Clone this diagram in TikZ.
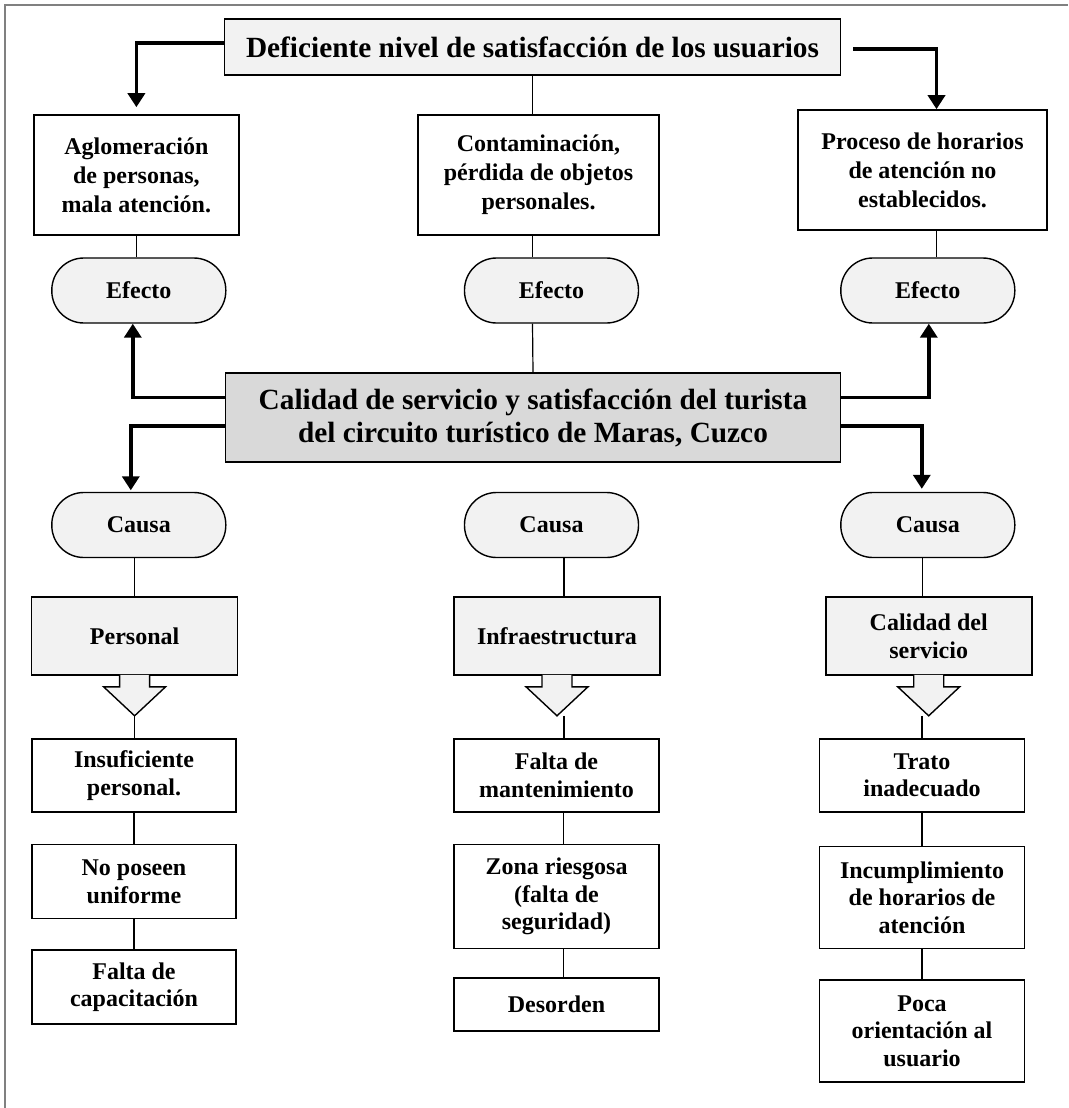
\documentclass[tikz,border=0pt]{standalone}
\usepackage{fontspec}
\setmainfont{Liberation Serif}
\usetikzlibrary{arrows.meta, calc, positioning}
\definecolor{softgray}{HTML}{F2F2F2}
\definecolor{midgray}{HTML}{D9D9D9}
\tikzset{
  headbox/.style={rectangle, draw=black, line width=1.6pt, align=center, inner sep=0pt, font=\fontsize{29.3}{33}\selectfont\bfseries},
  effectbox/.style={rectangle, draw=black, line width=1.6pt, fill=white, align=center, inner sep=0pt, minimum height=120pt, font=\fontsize{24}{29}\selectfont\bfseries},
  pill/.style={rectangle, rounded corners=32pt, draw=black, line width=1.4pt, fill=softgray, minimum width=174pt, minimum height=65pt, inner sep=0pt, font=\fontsize{24}{29}\selectfont\bfseries},
  causebox/.style={rectangle, draw=black, line width=1.6pt, fill=softgray, minimum width=206pt, minimum height=78pt, align=center, inner sep=0pt, font=\fontsize{24}{28}\selectfont\bfseries},
  itembox/.style={rectangle, draw=black, line width=1.6pt, fill=white, minimum width=205pt, align=center, inner sep=0pt, font=\fontsize{24}{27.5}\selectfont\bfseries},
  link/.style={line width=1.2pt},
  bigarrow/.style={line width=3.6pt, -{Triangle[width=17pt,length=14pt]}},
}
% hollow block arrow under a cause box
\newcommand{\downblock}[1]{%
  \fill[softgray] ($(#1.south)+(-15,-1)$) -- ++(0,12) -- ++(-16,0) -- ($(#1.south)+(0,40)$) -- ($(#1.south)+(31,11)$) -- ++(-16,0) -- ++(0,-12) -- cycle;
  \draw[line width=1.4pt] ($(#1.south)+(-15,-0.8)$) -- ++(0,11.8) -- ++(-16,0) -- ($(#1.south)+(0,40)$) coordinate (#1-tip) -- ($(#1.south)+(31,11)$) -- ++(-16,0) -- ++(0,-11.8);
}

\begin{document}
\begin{tikzpicture}[x=1pt, y=-1pt]
\useasboundingbox (0,0) rectangle (1068,1108);
\draw[line width=1.5pt, gray] (5,1108) -- (5,5) -- (1068,5);

% Main nodes
\node (top) [headbox, fill=softgray, minimum width=616pt, minimum height=56pt] at (532.5,47) {Deficiente nivel de satisfacción de los usuarios};
\node (centre) [headbox, fill=midgray, minimum width=615pt, minimum height=89pt] at (533,417.5) {Calidad de servicio y satisfacción del turista\\del circuito turístico de Maras, Cuzco};

% Effects
\node (agl) [effectbox, minimum width=205pt] at (136.4,175) {Aglomeración\\de personas,\\mala atención.};
\node (cont) [effectbox, minimum width=241pt] at (538.5,175) {Contaminación,\\pérdida de objetos\\personales.};
\node (proc) [effectbox, minimum width=249pt] at (922.5,170) {Proceso de horarios\\de atención no\\establecidos.};
\node (eff1) [pill] at (138.8,290.5) {Efecto};
\node (eff2) [pill] at (551.5,290.5) {Efecto};
\node (eff3) [pill] at (927.8,290.5) {Efecto};

% Causes
\node (cau1) [pill] at (138.8,525) {Causa};
\node (cau2) [pill] at (551.5,525) {Causa};
\node (cau3) [pill] at (927.8,525) {Causa};
\node (pers) [causebox] at (134.6,636) {Personal};
\node (infra) [causebox] at (557,636) {Infraestructura};
\node (calid) [causebox] at (928.7,636) {Calidad del\\servicio};
\downblock{pers}
\downblock{infra}
\downblock{calid}

% Cause details
\node (ins) [itembox, minimum width=204pt, minimum height=73pt] at (134,775.5) {Insuficiente\\personal.};
\node (nop) [itembox, minimum width=204pt, minimum height=74pt, below=31pt of ins] {No poseen\\uniforme};
\node (fcap) [itembox, minimum width=204pt, minimum height=74pt, below=30pt of nop] {Falta de\\capacitación};
\node (fman) [itembox, minimum height=73pt] at (556.5,775.5) {Falta de\\mantenimiento};
\node (zona) [itembox, minimum height=104pt, below=31pt of fman] {Zona riesgosa\\(falta de\\seguridad)};
\node (deso) [itembox, minimum height=53pt, below=28pt of zona] {Desorden};
\node (trato) [itembox, minimum height=73pt] at (922,775.5) {Trato\\inadecuado};
\node (incu) [itembox, minimum height=102pt, below=33pt of trato] {Incumplimiento\\de horarios de\\atención};
\node (poca) [itembox, minimum height=102pt, below=30pt of incu] {Poca\\orientación al\\usuario};

% Thin links
\draw [link] (top.south) -- (top.south |- cont.north);
\draw [link] (top.south |- cont.south) -- (top.south |- eff2.north);
\draw [link] (top.south |- eff2.south) -- (centre.north);
\draw [link] (agl.south) -- (agl.south |- eff1.north);
\draw [link] ([xshift=14pt]proc.south) -- ([xshift=14pt]proc.south |- eff3.north);
\draw [link] (pers.north |- cau1.south) -- (pers.north);
\draw [link] ([xshift=7pt]infra.north |- cau2.south) -- ([xshift=7pt]infra.north);
\draw [link] ([xshift=-6pt]calid.north |- cau3.south) -- ([xshift=-6pt]calid.north);
\draw [link] (pers-tip) -- (pers-tip |- ins.north);
\draw [link] ([xshift=7pt]infra-tip) -- ([xshift=7pt]infra-tip |- fman.north);
\draw [link] (trato.north |- calid-tip) -- (trato.north);
\draw [link] (ins) -- (nop);
\draw [link] (nop) -- (fcap);
\draw [link] ([xshift=7pt]fman.south) -- ([xshift=7pt]zona.north);
\draw [link] ([xshift=7pt]zona.south) -- ([xshift=7pt]deso.north);
\draw [link] (trato) -- (incu);
\draw [link] (incu) -- (poca);

% Thick arrows
\draw [bigarrow] ([yshift=4pt]top.west) -| ([yshift=7pt]agl.north);
\draw [bigarrow] ([xshift=12pt,yshift=-2pt]top.east) -| ([xshift=14pt]proc.north);
\draw [bigarrow] ([yshift=20pt]centre.west) -| ([xshift=-6pt]eff1.south);
\draw [bigarrow] ([yshift=-8.5pt]centre.west) -| ([xshift=-8pt,yshift=1.5pt]cau1.north);
\draw [bigarrow] ([yshift=20pt]centre.east) -| ([xshift=1pt]eff3.south);
\draw [bigarrow] ([yshift=-8.5pt]centre.east) -| ([xshift=-6pt,yshift=3pt]cau3.north);

\end{tikzpicture}
\end{document}
